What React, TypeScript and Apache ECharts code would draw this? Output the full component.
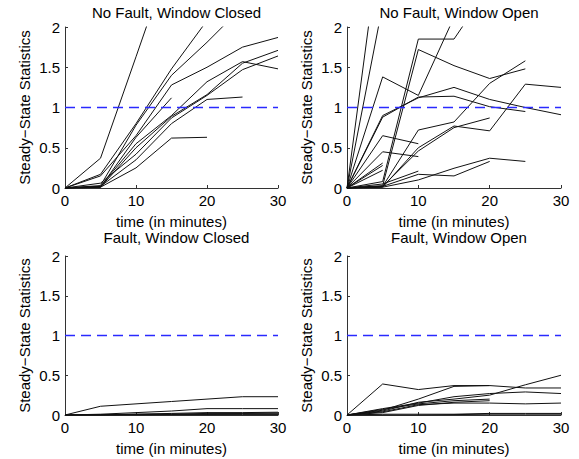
import React, { useEffect, useRef } from "react";
import * as echarts from "echarts";

// Time points (minutes)
const times = [0, 5, 10, 15, 20, 25, 30];

// Panel titles
const panelTitles = [
  "No Fault, Window Closed",
  "No Fault, Window Open",
  "Fault, Window Closed",
  "Fault, Window Open",
];

const xAxisName = "time (in minutes)";
const yAxisName = "Steady\u2212State Statistics";
const threshold = 1;

// Each run: values at times[0..n-1]
const noFaultClosed: number[][] = [
  [0, 0.37, 1.63, 2.9],
  [0, 0.17, 0.8, 1.48, 2.08],
  [0, 0.03, 0.78, 1.4, 1.81, 2.25],
  [0, 0.15, 0.65, 1.28, 1.5, 1.75, 1.87],
  [0, 0.02, 0.55, 0.9, 1.32, 1.57, 1.48],
  [0, 0.01, 0.5, 0.89, 1.16, 1.55, 1.71],
  [0, 0.06, 0.42, 0.87, 1.15, 1.47, 1.64],
  [0, 0.01, 0.63, 1.12],
  [0, 0.02, 0.35, 0.8, 1.1, 1.13],
  [0, 0.01, 0.25, 0.62, 0.63],
];

const noFaultOpen: number[][] = [
  [0, 3.33],
  [0, 2.27],
  [0, 1.38, 1.15, 2.12],
  [0, 0.08, 1.85, 1.85, 2.5],
  [0, 0.03, 1.72, 1.52, 1.36, 1.48],
  [0, 0.9, 1.12, 1.25, 1.1, 1.0, 0.91],
  [0, 0.88, 1.13, 1.14, 1.01, 0.95],
  [0, 0.02, 0.72, 0.82, 1.3, 1.58],
  [0, 0.01, 0.5, 0.77, 0.71, 1.29, 1.25],
  [0, 0.02, 0.46, 0.75, 0.87],
  [0, 0.65, 0.55],
  [0, 0.45, 0.39],
  [0, 0.31],
  [0, 0.28],
  [0, 0.22],
  [0, 0.02, 0.17, 0.15, 0.33],
  [0, 0.01, 0.1, 0.245, 0.37, 0.33],
  [0, 0.05, 0.21],
];

const faultClosed: number[][] = [
  [0, 0.11, 0.14, 0.17, 0.2, 0.23, 0.23],
  [0, 0.01, 0.03, 0.05, 0.08, 0.08, 0.08],
  [0, 0.005, 0.01, 0.02, 0.03, 0.03, 0.035],
  [0, 0.0, 0.01, 0.01, 0.02, 0.02, 0.025],
  [0, 0.0, 0.005, 0.01, 0.01, 0.015, 0.015],
  [0, 0.0, 0.0, 0.005, 0.005, 0.005, 0.005],
];

const faultOpen: number[][] = [
  [0, 0.39, 0.32, 0.37, 0.37, 0.34, 0.34],
  [0, 0.06, 0.2, 0.36, 0.37],
  [0, 0.05, 0.16, 0.2, 0.25, 0.38, 0.5],
  [0, 0.08, 0.15, 0.23, 0.27, 0.29, 0.27],
  [0, 0.04, 0.13, 0.15, 0.15, 0.14, 0.15],
  [0, 0.07, 0.14, 0.18, 0.2],
  [0, 0.03, 0.12, 0.16, 0.18],
  [0, 0.01, 0.01, 0.01, 0.02, 0.02, 0.02],
  [0, 0.0, 0.0, 0.005, 0.01, 0.01, 0.01],
];

const panelData = [noFaultClosed, noFaultOpen, faultClosed, faultOpen];

const FONT = "'Liberation Sans', Arial, Helvetica, sans-serif";
const FS = 15;

const grids = [
  { left: 65, top: 27, width: 213, height: 161 },
  { left: 347, top: 27, width: 214, height: 161 },
  { left: 65, top: 256, width: 213, height: 159 },
  { left: 347, top: 256, width: 214, height: 159 },
];
const titleTops = [0, 0, 225, 225];

const txt = { fontSize: FS, color: "#000", fontFamily: FONT, fontWeight: "normal" };

export default function App() {
  const ref = useRef<HTMLDivElement>(null);
  useEffect(() => {
    if (!ref.current) return;
    const chart = echarts.init(ref.current, undefined, { renderer: "svg" });
    const series: any[] = [];
    panelData.forEach((runs, p) => {
      runs.forEach((run) => {
        series.push({
          type: "line",
          xAxisIndex: p,
          yAxisIndex: p,
          data: run.map((v, i) => [times[i], v]),
          symbol: "none",
          clip: true,
          silent: true,
          color: "#000",
          lineStyle: { color: "#111", width: 1 },
        });
      });
      series.push({
        type: "line",
        xAxisIndex: p,
        yAxisIndex: p,
        data: [
          [times[0], threshold],
          [times[times.length - 1], threshold],
        ],
        symbol: "none",
        silent: true,
        color: "#2a2aff",
        itemStyle: { color: "#2a2aff" },
        lineStyle: { color: "#2a2aff", width: 1.3, type: [10, 6] },
        z: 3,
      });
    });
    const option: any = {
      animation: false,
      textStyle: { fontFamily: FONT },
      title: grids.map((g, i) => ({
        text: panelTitles[i],
        left: g.left + g.width / 2,
        top: titleTops[i],
        textAlign: "center",
        textStyle: { ...txt },
      })),
      grid: grids.map((g) => ({ ...g, containLabel: false })),
      xAxis: grids.map((_, i) => ({
        type: "value",
        gridIndex: i,
        min: 0,
        max: 30,
        interval: 10,
        name: xAxisName,
        nameLocation: "middle",
        nameGap: 26,
        nameTextStyle: { ...txt },
        axisLine: { show: true, lineStyle: { color: "#333", width: 1 } },
        axisTick: { show: true, inside: true, length: 3, lineStyle: { color: "#333" } },
        axisLabel: { ...txt, margin: 5 },
        splitLine: { show: false },
      })),
      yAxis: grids.map((_, i) => ({
        type: "value",
        gridIndex: i,
        min: 0,
        max: 2,
        interval: 0.5,
        name: yAxisName,
        nameLocation: "middle",
        nameGap: 33,
        nameTextStyle: { ...txt },
        axisLine: { show: true, lineStyle: { color: "#333", width: 1 } },
        axisTick: { show: true, inside: true, length: 3, lineStyle: { color: "#333" } },
        axisLabel: { ...txt, margin: 5 },
        splitLine: { show: false },
      })),
      series,
    };
    chart.setOption(option);
    return () => chart.dispose();
  }, []);
  return (
    <div
      ref={ref}
      style={{ position: "absolute", left: 0, top: 0, width: 579, height: 459, background: "#fff" }}
    />
  );
}
